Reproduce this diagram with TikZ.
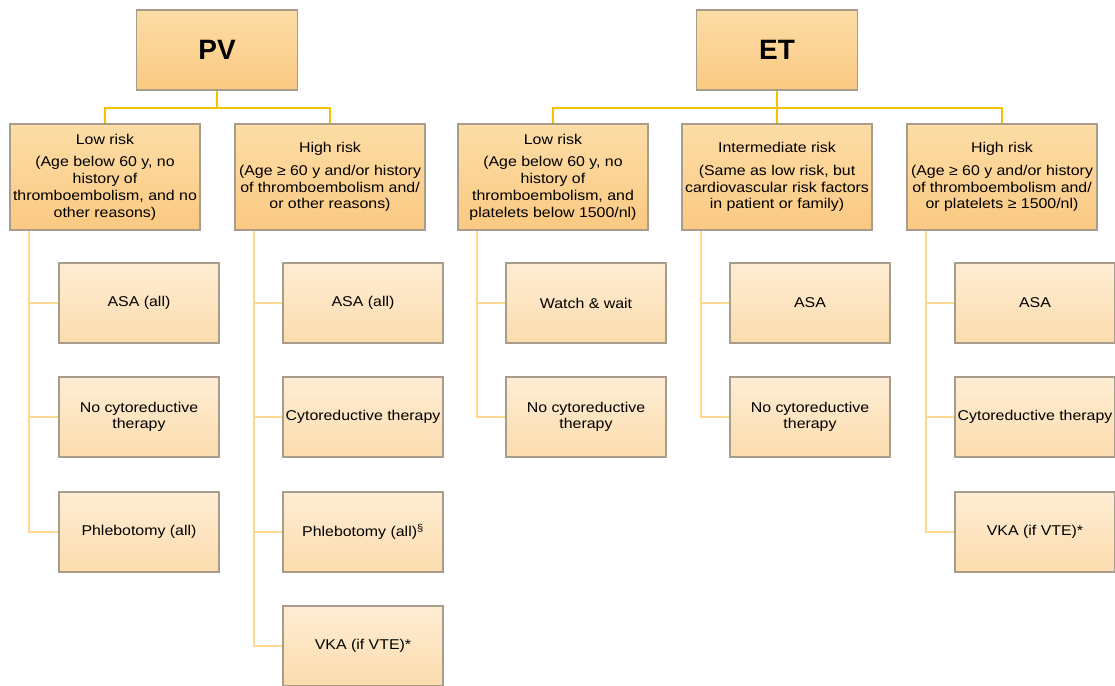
\documentclass[tikz,border=0pt]{standalone}
\usepackage{fontspec}
\setmainfont{Liberation Sans}[FakeStretch=1.12]
\newfontfamily\titlefont{Liberation Sans}
\definecolor{boxtop}{HTML}{FCDDA6}
\definecolor{boxbot}{HTML}{FBC982}
\definecolor{treattop}{HTML}{FEEDD3}
\definecolor{treatbot}{HTML}{FCDCAE}
\definecolor{boxline}{HTML}{A89C8C}
\definecolor{topwire}{HTML}{F5C000}
\definecolor{sidewire}{HTML}{FDD88E}
\tikzset{
  x=1pt, y=-1pt,
  titlebox/.style={draw=boxline, line width=1.2pt, top color=boxtop, bottom color=boxbot,
    minimum width=161pt, minimum height=80pt, inner sep=0pt,
    font=\titlefont\fontsize{28}{30}\selectfont\bfseries},
  riskbox/.style={draw=boxline, line width=1.2pt, top color=boxtop, bottom color=boxbot,
    minimum width=190pt, minimum height=106pt, inner sep=1pt, align=center,
    font=\fontsize{14.2}{16.7}\selectfont},
  treatbox/.style={draw=boxline, line width=1.2pt, top color=treattop, bottom color=treatbot,
    minimum width=160pt, minimum height=80pt, inner sep=1pt, align=center,
    font=\fontsize{14.2}{16.5}\selectfont},
  topline/.style={topwire, line width=2pt},
  sideline/.style={sidewire, line width=2pt}
}
\begin{document}
\begin{tikzpicture}
  \useasboundingbox (0,0) rectangle (1115,685);

  % top level
  \node[titlebox] (pv) at (217,50) {PV};
  \node[titlebox] (et) at (777,50) {ET};

  % risk groups
  \node[riskbox] (pvlow) at (105,177) {Low risk\\[6pt](Age below 60 y, no\\history of\\thromboembolism, and no\\other reasons)};
  \node[riskbox] (pvhigh) at (330,177) {High risk\\[6pt](Age ≥ 60 y and/or history\\of thromboembolism and/\\or other reasons)};
  \node[riskbox] (etlow) at (553,177) {Low risk\\[6pt](Age below 60 y, no\\history of\\thromboembolism, and\\platelets below 1500/nl)};
  \node[riskbox] (etmid) at (777,177) {Intermediate risk\\[6pt](Same as low risk, but\\cardiovascular risk factors\\in patient or family)};
  \node[riskbox] (ethigh) at (1002,177) {High risk\\[6pt](Age ≥ 60 y and/or history\\of thromboembolism and/\\or platelets ≥ 1500/nl)};

  % treatments
  \node[treatbox] (pvlA) at (139,303) {ASA (all)};
  \node[treatbox] (pvlB) at (139,417) {No cytoreductive\\therapy};
  \node[treatbox] (pvlC) at (139,532) {Phlebotomy (all)};

  \node[treatbox] (pvhA) at (363,303) {ASA (all)};
  \node[treatbox] (pvhB) at (363,417) {Cytoreductive therapy};
  \node[treatbox] (pvhC) at (363,532) {Phlebotomy (all)\textsuperscript{\S}};
  \node[treatbox] (pvhD) at (363,646) {VKA (if VTE)*};

  \node[treatbox] (etlA) at (586,303) {Watch \& wait};
  \node[treatbox] (etlB) at (586,417) {No cytoreductive\\therapy};

  \node[treatbox] (etmA) at (810,303) {ASA};
  \node[treatbox] (etmB) at (810,417) {No cytoreductive\\therapy};

  \node[treatbox] (ethA) at (1035,303) {ASA};
  \node[treatbox] (ethB) at (1035,417) {Cytoreductive therapy};
  \node[treatbox] (ethC) at (1035,532) {VKA (if VTE)*};

  % connectors
  \foreach \a/\b in {pv/pvlow,pv/pvhigh,et/etlow,et/etmid,et/ethigh} {
    \draw[topline] (\a.south) -- ++(0,17) -| (\b.north);
  }

  \foreach \a/\b in {pvlow/pvlA,pvlow/pvlB,pvlow/pvlC,
                     pvhigh/pvhA,pvhigh/pvhB,pvhigh/pvhC,pvhigh/pvhD,
                     etlow/etlA,etlow/etlB,etmid/etmA,etmid/etmB,
                     ethigh/ethA,ethigh/ethB,ethigh/ethC} {
    \draw[sideline] ([xshift=20pt]\a.south west) |- (\b.west);
  }

\end{tikzpicture}
\end{document}
